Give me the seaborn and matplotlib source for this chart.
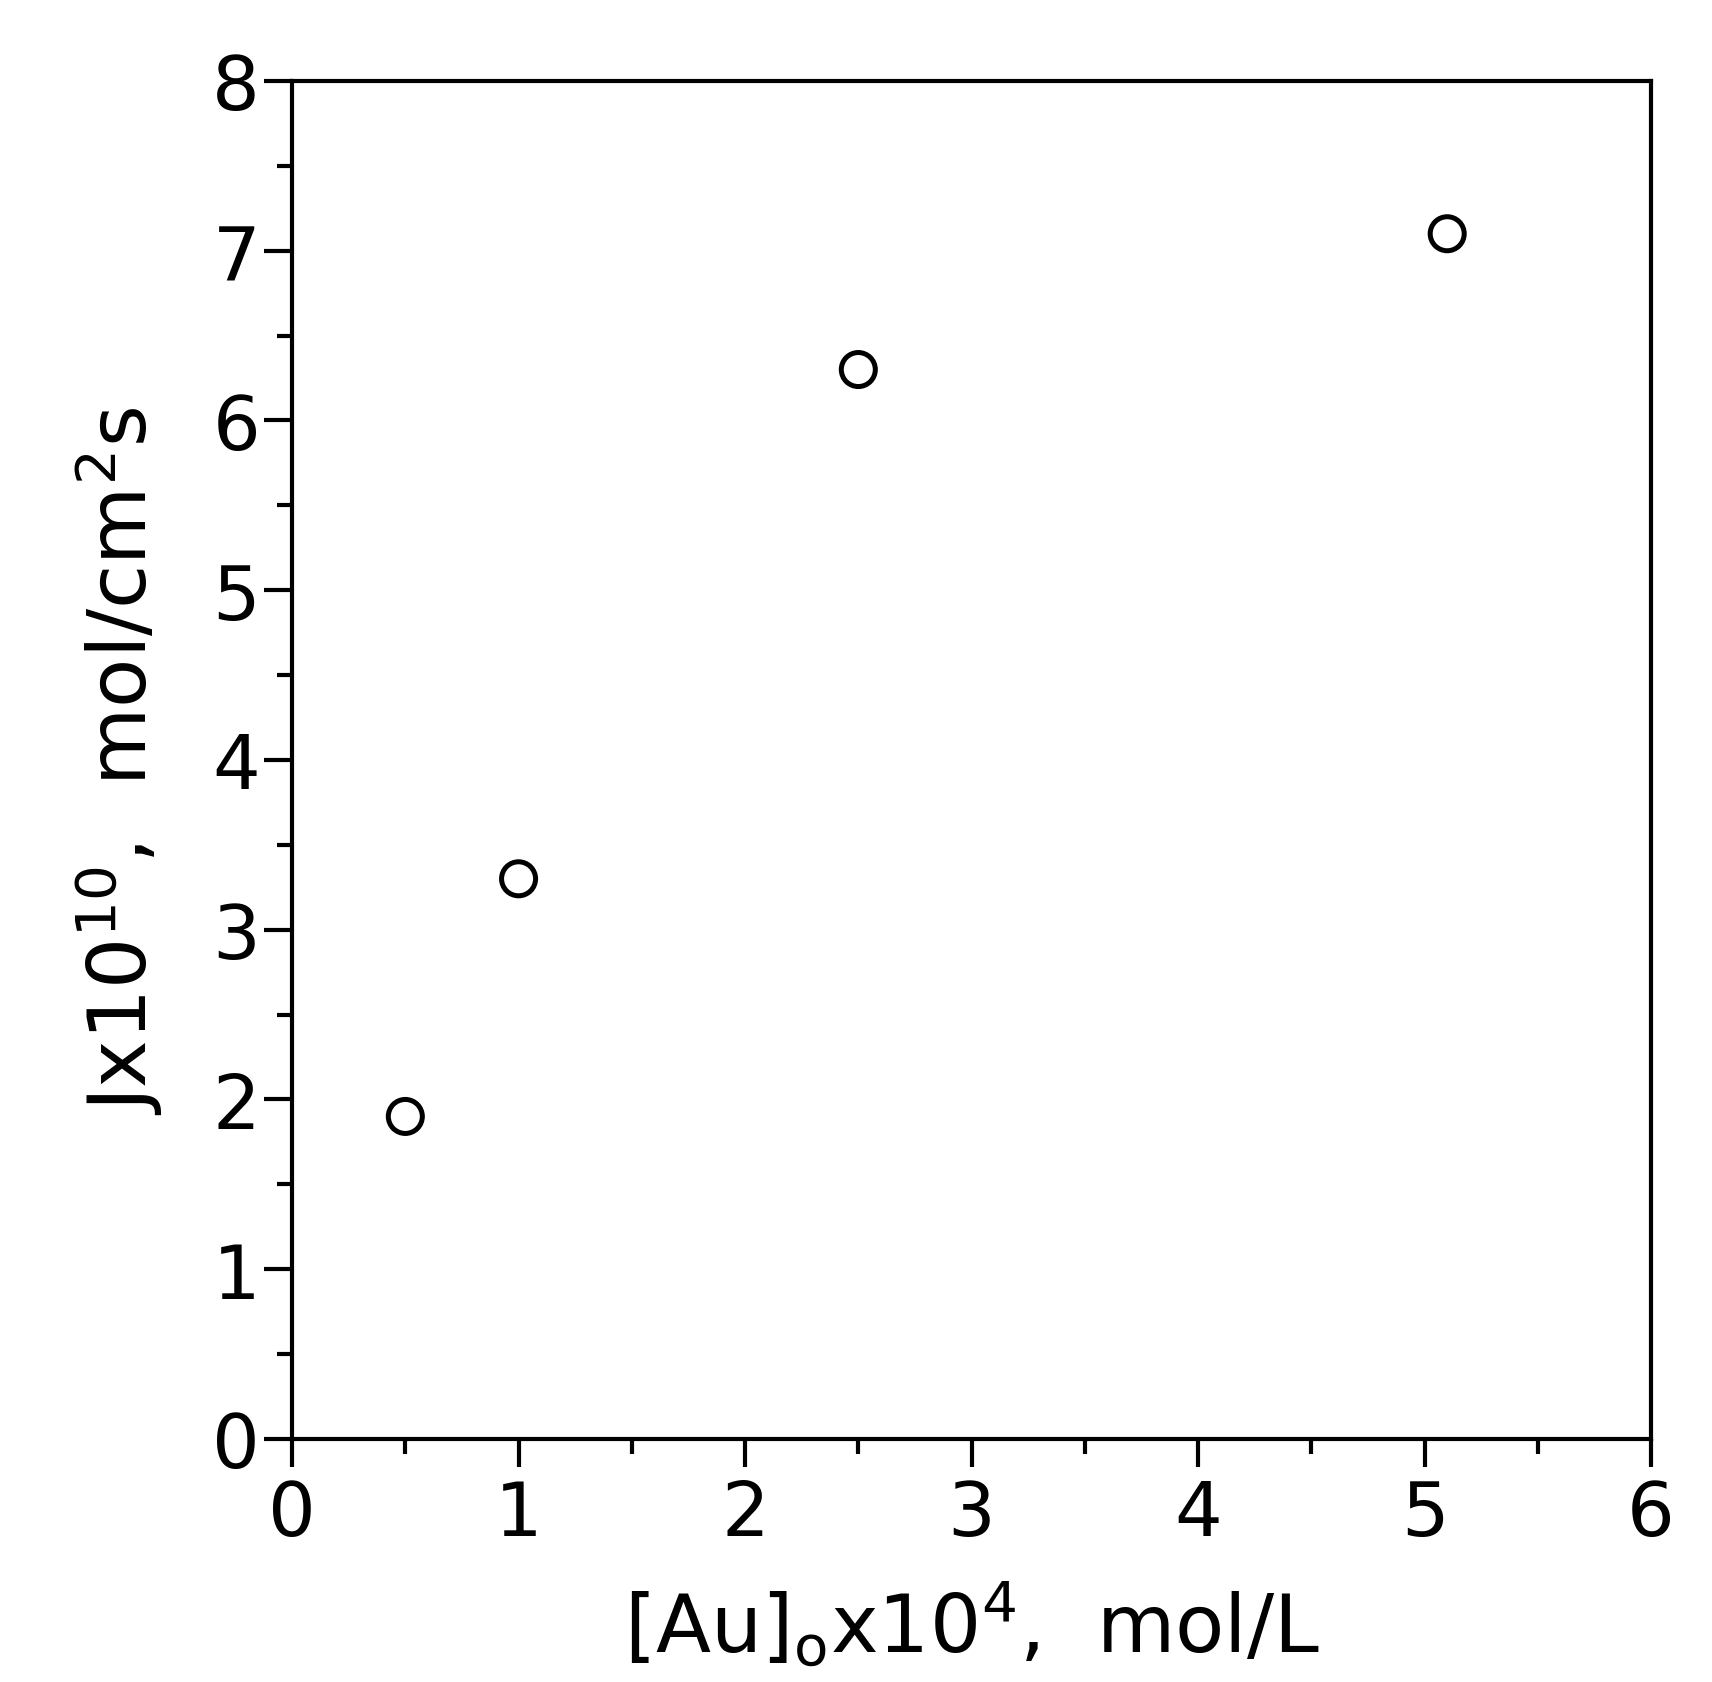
import matplotlib
matplotlib.use("Agg")
import numpy as np
import pandas as pd
import matplotlib.pyplot as plt
import seaborn as sns
from matplotlib.ticker import MultipleLocator

# data
au_conc = [0.5, 1.0, 2.5, 5.1]     # [Au]o x 10^4, mol/L
flux = [1.9, 3.3, 6.3, 7.1]        # J x 10^10, mol/cm2 s

df = pd.DataFrame({"au": au_conc, "J": flux})

sns.set_style("ticks")
plt.rcParams["font.family"] = ["DejaVu Sans"]
plt.rcParams["mathtext.default"] = "regular"
plt.rcParams["text.color"] = "black"
plt.rcParams["axes.labelcolor"] = "black"

fig = plt.figure(figsize=(17.12, 16.83), dpi=100)
ax = fig.add_axes([0.1706, 0.1444, 0.7938, 0.8069])

sns.scatterplot(
    data=df, x="au", y="J", ax=ax,
    marker="o", s=600, facecolor="none", edgecolor="black", linewidth=3.6,
    zorder=3,
)

ax.set_xlim(0, 6)
ax.set_ylim(0, 8)
ax.xaxis.set_major_locator(MultipleLocator(1))
ax.xaxis.set_minor_locator(MultipleLocator(0.5))
ax.yaxis.set_major_locator(MultipleLocator(1))
ax.yaxis.set_minor_locator(MultipleLocator(0.5))

for side in ax.spines.values():
    side.set_visible(True)
    side.set_linewidth(3)
    side.set_color("black")

ax.tick_params(which="major", direction="out", length=20, width=3,
               labelsize=54, color="black", labelcolor="black")
ax.tick_params(axis="y", which="major", pad=3)
ax.tick_params(axis="x", which="major", pad=8)
ax.tick_params(which="minor", direction="out", length=11, width=3, color="black")

ax.set_xlabel(r"[Au]$_{o}$x10$^{4}$,  mol/L", fontsize=58, labelpad=20)
ax.set_ylabel(r"Jx10$^{10}$,  mol/cm$^{2}$s", fontsize=58, labelpad=34)

fig.savefig("out.png", dpi=100)
